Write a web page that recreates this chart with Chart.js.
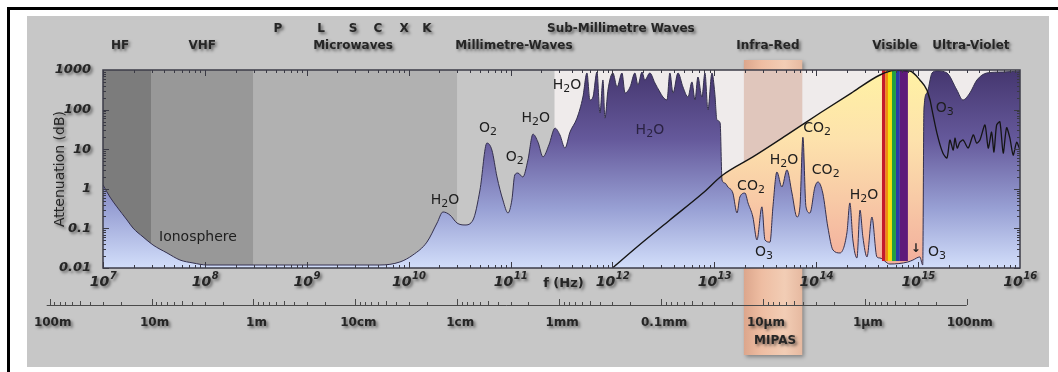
<!DOCTYPE html>
<html><head><meta charset="utf-8">
<script src="https://cdn.jsdelivr.net/npm/chart.js@4.4.1/dist/chart.umd.min.js"></script>
<style>html,body{margin:0;padding:0;background:#fff;overflow:hidden}canvas{display:block}</style>
</head><body>
<canvas id="c" width="1058" height="372"></canvas>
<script>
// ---------------- DATA ----------------
// Atmospheric attenuation (zenith), frequency in Hz, attenuation in dB
const attenFreq = [
  1.0e7,1.17e7,1.37e7,1.72e7,1.97e7,2.47e7,3.10e7,4.25e7,5.70e7,7.64e7,1.05e8,5.22e9,
  8.2e9,1.10e10,1.51e10,1.90e10,2.17e10,2.54e10,2.98e10,3.57e10,4.28e10,5.01e10,
  5.86e10,6.56e10,7.36e10,8.41e10,9.44e10,1.03e11,1.10e11,1.18e11,1.32e11,1.48e11,
  1.66e11,1.86e11,2.08e11,2.38e11,2.73e11,3.05e11,3.42e11,3.83e11,4.49e11,5.13e11,
  5.62e11,6.01e11,6.44e11,7.05e11,7.54e11,8.07e11,8.44e11,9.04e11,1.01e12,1.11e12,
  1.24e12,1.33e12,1.49e12,1.66e12,1.78e12,1.95e12,2.08e12,2.33e12,2.61e12,2.92e12,
  3.13e12,3.43e12,3.66e12,3.93e12,4.40e12,4.92e12,5.51e12,6.03e12,6.46e12,6.90e12,
  7.55e12,8.09e12,8.65e12,9.48e12,1.01e13,1.06e13,1.14e13,1.19e13,1.27e13,1.36e13,
  1.52e13,1.67e13,1.78e13,2.00e13,2.14e13,2.39e13,2.62e13,2.93e13,3.14e13,3.52e13,
  3.76e13,4.11e13,4.60e13,5.16e13,5.78e13,6.47e13,6.92e13,7.40e13,7.93e13,8.67e13,
  9.71e13,1.04e14,1.16e14,1.30e14,1.46e14,1.71e14,2.00e14,2.14e14,2.29e14,2.51e14,
  2.69e14,2.87e14,3.15e14,3.52e14,3.94e14,4.22e14,5.28e14,7.94e14,8.89e14,1.04e15,
  1.11e15,1.14e15,1.22e15,1.37e15,1.53e15,1.92e15,2.40e15,2.75e15,3.22e15,3.78e15,4.73e15,6.79e15,1.0e16
];
const attenDb = [
  1.25,0.62,0.35,0.163,0.102,0.061,0.038,0.024,0.0159,0.0134,0.0119,0.0119,
  0.0142,0.0213,0.045,0.137,0.26,0.218,0.137,0.122,0.163,0.93,
  14.3,9.5,1.99,0.52,0.245,0.52,2.23,2.5,1.99,5.3,
  24,15,6.4,12.8,34,23,10.7,27,61,208,
  840,175,208,890,82,560,61,313,840,372,
  840,262,372,840,418,890,560,840,470,278,
  208,175,840,262,840,372,208,500,175,665,
  208,840,98,840,262,55,46,1.67,1.40,1.11,
  0.78,0.245,0.62,0.78,0.44,0.194,0.051,0.35,0.051,0.045,
  0.35,2.66,1.11,3.0,0.78,0.194,0.35,20,0.35,0.245,
  1.11,1.49,0.78,0.108,0.0285,0.024,0.077,0.44,0.051,0.0179,
  0.29,0.061,0.019,0.194,0.019,0.0179,0.0126,0.0142,0.0159,0.019,
  0.0119,98,262,840,950,840,313,175,262,560,840,890,950
];
// Solar spectrum envelope (black line, yellow area)
const solarFreq = [1.0e12,1.74e12,3.66e12,7.73e12,1.21e13,2.39e13,5.16e13,1.09e14,2.29e14,4.22e14,5.92e14,8.30e14,1.04e15,1.22e15,1.31e15];
const solarDb   = [0.01,0.034,0.163,0.78,2.23,6.4,23,82,278,748,980,940,560,313,175];
// Ozone absorption in the ultra-violet (black line)
const uvO3Freq = [1.31e15,1.53e15,1.75e15,1.92e15,2.05e15,2.21e15,2.30e15,2.42e15,2.57e15,2.77e15,3.10e15,3.48e15,3.75e15,4.04e15,4.53e15,4.88e15,5.26e15,5.55e15,5.90e15,6.35e15,6.84e15,7.38e15,7.96e15,8.57e15,9.27e15,1.0e16];
const uvO3Db   = [175,25.6,8.0,6.0,17,9.5,19,10.7,15,17,10.7,23,14.3,17,41,10.7,27,8.5,41,49,8,35,19,7.1,15,9.5];

// Axis ticks
const freqTickValues = [1e7,1e8,1e9,1e10,1e11,1e12,1e13,1e14,1e15,1e16];
const freqTickExponents = ['7','8','9','10','11','12','13','14','15','16'];
const dbTickValues = [0.01,0.1,1,10,100,1000];
const dbTickLabels = ['0.01','0.1','1','10','100','1000'];
const wavelengthM = [100,10,1,0.1,0.01,0.001,1e-4,1e-5,1e-6,1e-7];
const wavelengthLabels = ['100m','10m','1m','10cm','1cm','1mm','0.1mm','10µm','1µm','100nm'];

// Regions
const bandEdgesHz = [1e7,3e7,3e8,3e10,2.7e11,1e16];
const bandColors = ['#7c7c7c','#989898','#b1b1b1','#c6c6c6','#efebeb'];
const rainbowEdgesHz = [4.42e14,4.78e14,5.06e14,5.54e14,6.06e14,6.62e14,7.94e14];
const rainbowColors = ['#c41a2c','#f08a10','#f3df12','#22a040','#2a3aa8','#5e1a7a'];
const rainbowDbRange = [0.015,1000];
const mipasHz = [1.95e13,7.3e13];

// Labels
const topLabels = ['HF','VHF','P','L','S','C','X','K','Microwaves','Millimetre-Waves','Sub-Millimetre Waves','Infra-Red','Visible','Ultra-Violet'];
const topLabelHz = [1.47e7,9.4e7,5.2e8,1.38e9,2.84e9,5.0e9,9.0e9,1.51e10,2.84e9,1.08e11,1.21e12,3.36e13,5.92e14,3.3e15];
const topLabelRow = [2,2,1,1,1,1,1,1,2,2,1,2,2,2];
const moleculeLabels = ['H₂O','O₂','O₂','H₂O','H₂O','H₂O','CO₂','H₂O','CO₂','CO₂','H₂O','O₃','O₃','O₃','Ionosphere'];
const moleculeHz = [2.27e10,6.0e10,1.10e11,1.77e11,3.58e11,2.33e12,1.02e14,4.82e13,1.24e14,2.29e13,2.94e14,3.07e13,1.53e15,1.83e15,8.55e7];
const moleculeDb = [0.52,34,6.4,61,418,30.5,34,5.3,3.0,1.18,0.70,0.0254,0.0254,110,0.061];

// ---------------- DRAWING ----------------
const FONT = 'DejaVu Sans';
const C_LIGHT = 2.998e8;

function vGrad(chart, stops){
  const {ctx, chartArea} = chart;
  if(!chartArea) return 'rgba(0,0,0,0)';
  const g = ctx.createLinearGradient(0, chartArea.top, 0, chartArea.bottom);
  stops.forEach(s => g.addColorStop(s[0], s[1]));
  return g;
}
const purpleStops = [[0,'#45366f'],[0.35,'#65599b'],[0.7,'#98a0d4'],[1,'#d2defa']];
const yellowStops = [[0,'#fff2a4'],[0.35,'#fde2ac'],[0.65,'#f8caa6'],[1,'#f2ad9c']];

function setShadow(ctx){ ctx.shadowColor='rgba(0,0,0,0.5)'; ctx.shadowBlur=3; ctx.shadowOffsetX=2; ctx.shadowOffsetY=2; }
function shadowText(ctx, text, x, y, font, opts={}){
  ctx.save();
  ctx.font = font;
  ctx.fillStyle = opts.color || '#262626';
  ctx.textAlign = opts.align || 'center';
  ctx.textBaseline = 'middle';
  setShadow(ctx);
  ctx.fillText(text, x, y);
  ctx.restore();
}
function chemText(ctx, txt, cx, cy, size, color){
  const subMap = {'₂':'2','₃':'3'};
  const parts = [...txt].map(ch => subMap[ch] ? {t:subMap[ch], sub:true} : {t:ch, sub:false});
  const big = `${size}px "${FONT}"`, small = `${Math.round(size*0.8)}px "${FONT}"`;
  let w = 0;
  parts.forEach(p => { ctx.font = p.sub ? small : big; p.w = ctx.measureText(p.t).width; w += p.w; });
  let xx = cx - w/2;
  ctx.save();
  ctx.fillStyle = color; ctx.textBaseline = 'middle'; ctx.textAlign = 'left';
  parts.forEach(p => { ctx.font = p.sub ? small : big; ctx.fillText(p.t, xx, p.sub ? cy + size*0.32 : cy); xx += p.w; });
  ctx.restore();
}

const decor = {
  id: 'decor',
  beforeDraw(chart){
    const {ctx, chartArea:a, scales:{x}} = chart;
    ctx.save();
    ctx.fillStyle = '#fff'; ctx.fillRect(0,0,chart.width,chart.height);
    ctx.fillStyle = '#000'; ctx.fillRect(7,7,1051,3); ctx.fillRect(7,7,3,365);
    ctx.fillStyle = '#c7c7c7'; ctx.fillRect(27,16,1022,351);
    // MIPAS band (outer)
    const mx0 = x.getPixelForValue(mipasHz[0]), mx1 = x.getPixelForValue(mipasHz[1]);
    const mg = ctx.createLinearGradient(mx0,0,mx1,0);
    mg.addColorStop(0,'#dca68c'); mg.addColorStop(0.3,'#eebda2'); mg.addColorStop(0.7,'#f2cdb5'); mg.addColorStop(1,'#e6b9a0');
    ctx.save();
    ctx.shadowColor='rgba(0,0,0,0.35)'; ctx.shadowBlur=4; ctx.shadowOffsetX=2; ctx.shadowOffsetY=2;
    ctx.fillStyle = mg; ctx.fillRect(mx0,60,mx1-mx0,295);
    ctx.restore();
    // plot region bands
    for(let i=0;i<bandColors.length;i++){
      const p0 = x.getPixelForValue(bandEdgesHz[i]), p1 = x.getPixelForValue(bandEdgesHz[i+1]);
      ctx.fillStyle = bandColors[i]; ctx.fillRect(p0,a.top,p1-p0,a.height);
    }
    ctx.fillStyle = 'rgba(200,140,112,0.38)'; ctx.fillRect(mx0,a.top,mx1-mx0,a.height);
    ctx.restore();
    setShadow(ctx);
  },
  beforeDatasetsDraw(chart){
    const ctx = chart.ctx;
    ctx.shadowColor='rgba(0,0,0,0)'; ctx.shadowBlur=0; ctx.shadowOffsetX=0; ctx.shadowOffsetY=0;
  },
  afterDatasetDraw(chart, args){
    if(args.index !== 1) return;
    const {ctx, scales:{x,y}} = chart;
    ctx.save();
    const yt = y.getPixelForValue(rainbowDbRange[1]), yb = y.getPixelForValue(rainbowDbRange[0]);
    for(let i=0;i<rainbowColors.length;i++){
      const p0 = x.getPixelForValue(rainbowEdgesHz[i]), p1 = x.getPixelForValue(rainbowEdgesHz[i+1]);
      ctx.fillStyle = rainbowColors[i]; ctx.fillRect(p0,yt,p1-p0,yb-yt);
    }
    ctx.restore();
  },
  afterDatasetsDraw(chart){
    const {ctx, chartArea:a, scales:{x,y}} = chart;
    ctx.save();
    ctx.strokeStyle = '#3a3a44'; ctx.lineWidth = 1;
    ctx.beginPath();
    for(let e=7;e<16;e++) for(let k=1;k<10;k++){
      const px = Math.round(x.getPixelForValue(k*Math.pow(10,e)))+0.5; const L = k===1?6:3;
      ctx.moveTo(px,a.bottom); ctx.lineTo(px,a.bottom-L); ctx.moveTo(px,a.top); ctx.lineTo(px,a.top+L);
    }
    for(let e=-2;e<3;e++) for(let k=1;k<10;k++){
      const py = Math.round(y.getPixelForValue(k*Math.pow(10,e)))+0.5; const L = k===1?6:3;
      ctx.moveTo(a.left,py); ctx.lineTo(a.left+L,py); ctx.moveTo(a.right,py); ctx.lineTo(a.right-L,py);
    }
    ctx.stroke();
    ctx.lineWidth = 1.5; ctx.strokeStyle = '#3c3c48';
    ctx.strokeRect(a.left, a.top, a.width, a.height);
    ctx.restore();
    // in-plot labels
    for(let i=0;i<moleculeLabels.length;i++){
      const px = x.getPixelForValue(moleculeHz[i]), py = y.getPixelForValue(moleculeDb[i]);
      if(moleculeLabels[i]==='Ionosphere'){
        ctx.save(); ctx.font = `14px "${FONT}"`; ctx.fillStyle='#1e1e1e'; ctx.textAlign='center'; ctx.textBaseline='middle';
        ctx.fillText(moleculeLabels[i], px, py); ctx.restore();
      } else {
        chemText(ctx, moleculeLabels[i], px, py, 14, i===5 ? '#2a2242' : '#1e1e1e');
      }
    }
    ctx.save(); ctx.font = `bold 12px "${FONT}"`; ctx.fillStyle='#222'; ctx.textAlign='center'; ctx.textBaseline='middle';
    ctx.fillText('↓', x.getPixelForValue(1.33e15)-15, y.getPixelForValue(0.03)); ctx.restore();
  },
  afterDraw(chart){
    const {ctx, chartArea:a, scales:{x}} = chart;
    const LBL = `bold 12px "${FONT}"`;
    // frequency tick labels with superscript exponents, placed on the x scale's ticks
    x.ticks.forEach(t => {
      const i = freqTickValues.indexOf(t.value); if(i<0) return;
      const px = x.getPixelForValue(t.value);
      ctx.save(); setShadow(ctx); ctx.fillStyle='#262626'; ctx.textBaseline='alphabetic'; ctx.textAlign='left';
      const fb = `italic bold 14px "${FONT}"`, fs = `italic bold 10px "${FONT}"`;
      ctx.font = fb; const w1 = ctx.measureText('10').width;
      ctx.font = fs; const w2 = ctx.measureText(freqTickExponents[i]).width;
      const x0 = px - (w1+w2)/2;
      ctx.font = fb; ctx.fillText('10', x0, a.bottom + 18);
      ctx.font = fs; ctx.fillText(freqTickExponents[i], x0 + w1 + 0.5, a.bottom + 11);
      ctx.restore();
    });
    // top labels
    const rowY = {1:29, 2:46};
    topLabels.forEach((t,i) => shadowText(ctx, t, x.getPixelForValue(topLabelHz[i]), rowY[topLabelRow[i]], LBL));
    shadowText(ctx, 'f (Hz)', x.getPixelForValue(3.3e11), 284, `bold 13px "${FONT}"`);
    // wavelength axis
    const yA = 305;
    ctx.save();
    ctx.strokeStyle = '#4a4a4a'; ctx.lineWidth = 1;
    ctx.beginPath();
    const xw0 = x.getPixelForValue(C_LIGHT/100)-3, xw1 = x.getPixelForValue(C_LIGHT/1e-7);
    ctx.moveTo(xw0, yA+0.5); ctx.lineTo(xw1, yA+0.5);
    for(let n=-7;n<=1;n++){
      for(let k=1;k<10;k++){
        const lam = k*Math.pow(10,n);
        const px = Math.round(x.getPixelForValue(C_LIGHT/lam))+0.5;
        const L = k===1 ? 6 : (k===5 ? 4 : 3);
        ctx.moveTo(px,yA); ctx.lineTo(px,yA-L);
      }
    }
    const pEnd = Math.round(x.getPixelForValue(C_LIGHT/100))+0.5;
    ctx.moveTo(pEnd,yA); ctx.lineTo(pEnd,yA-6);
    ctx.stroke();
    ctx.restore();
    wavelengthM.forEach((lam,i) => shadowText(ctx, wavelengthLabels[i], x.getPixelForValue(C_LIGHT/lam)+3, 323, LBL));
    shadowText(ctx, 'MIPAS', (x.getPixelForValue(mipasHz[0])+x.getPixelForValue(mipasHz[1]))/2+2, 341, LBL);
  }
};

Chart.defaults.font.family = FONT;
const ctx = document.getElementById('c').getContext('2d');
new Chart(ctx, {
  type: 'line',
  data: {
    datasets: [
      { label:'Solar spectrum', data: solarFreq.map((f,i)=>({x:f,y:solarDb[i]})),
        borderWidth:0, pointRadius:0, fill:'start', cubicInterpolationMode:'monotone',
        backgroundColor: c => vGrad(c.chart, yellowStops), order:4 },
      { label:'Attenuation', data: attenFreq.map((f,i)=>({x:f,y:attenDb[i]})),
        borderColor:'#34304e', borderWidth:1, pointRadius:0, fill:'start', cubicInterpolationMode:'monotone',
        backgroundColor: c => vGrad(c.chart, purpleStops), order:3 },
      { label:'Solar line', data: solarFreq.map((f,i)=>({x:f,y:solarDb[i]})),
        borderColor:'#151515', borderWidth:1.4, pointRadius:0, fill:false, cubicInterpolationMode:'monotone', order:2 },
      { label:'O3 UV', data: uvO3Freq.map((f,i)=>({x:f,y:uvO3Db[i]})),
        borderColor:'#151515', borderWidth:1.3, pointRadius:0, fill:false, tension:0.25, order:1 }
    ]
  },
  options: {
    responsive:false, animation:false, devicePixelRatio:1,
    layout:{ padding:{ left:0, right:38, top:70, bottom:0 } },
    plugins:{ legend:{display:false}, tooltip:{enabled:false} },
    scales:{
      x:{ type:'logarithmic', min:1e7, max:1e16,
          afterFit(s){ s.height = 104; },
          afterBuildTicks(s){ s.ticks = freqTickValues.map(v=>({value:v})); },
          grid:{display:false}, border:{display:false},
          ticks:{ display:false } },
      y:{ type:'logarithmic', min:0.01, max:1000,
          afterFit(s){ s.width = 103; },
          afterBuildTicks(s){ s.ticks = dbTickValues.map(v=>({value:v})); },
          grid:{display:false}, border:{display:false},
          title:{ display:true, text:'Attenuation (dB)', color:'#262626', font:{size:14}, padding:{top:52,bottom:0} },
          ticks:{ padding:4, color:'#262626', font:{size:13, style:'italic', weight:'bold'},
                  callback:(v)=>dbTickLabels[dbTickValues.indexOf(v)] } }
    }
  },
  plugins:[decor]
});
</script>
</body></html>
